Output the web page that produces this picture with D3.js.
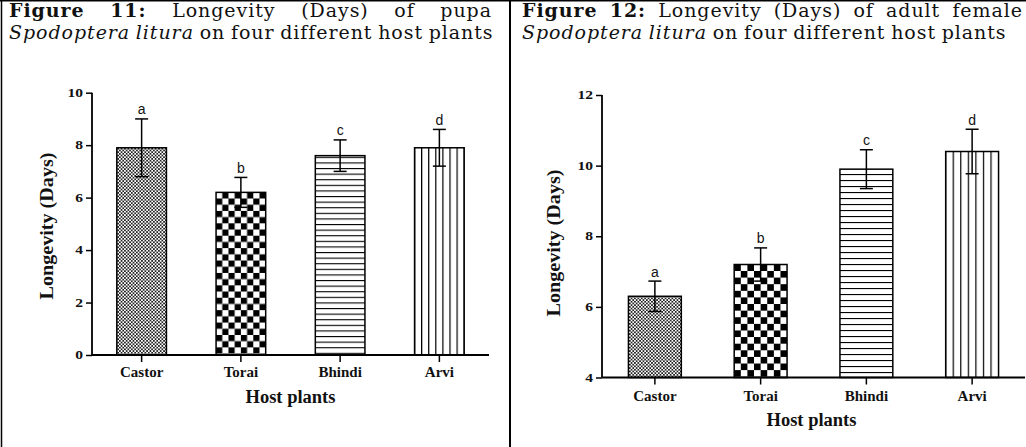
<!DOCTYPE html>
<html><head><meta charset="utf-8">
<script src="https://cdn.jsdelivr.net/npm/d3@7/dist/d3.min.js"></script>
<style>
html,body{margin:0;padding:0;background:#fff;}
svg{display:block;}
</style></head>
<body>
<svg id="fig" width="1026" height="447"></svg>
<script>
// ---------- data ----------
const categories = ["Castor", "Torai", "Bhindi", "Arvi"];
const pupaMeans = [7.9, 6.2, 7.6, 7.9];
const pupaErrors = [1.1, 0.57, 0.6, 0.7];
const pupaLetters = ["a", "b", "c", "d"];
const pupaTicks = [0, 2, 4, 6, 8, 10];

const femaleMeans = [6.3, 7.2, 9.9, 10.4];
const femaleErrors = [0.43, 0.47, 0.55, 0.63];
const femaleLetters = ["a", "b", "c", "d"];
const femaleTicks = [4, 6, 8, 10, 12];

const xTitle = "Host plants";
const yTitle = "Longevity (Days)";

const title11 = [
  [{t: "Figure", b: 1}, {t: "11:", b: 1}, {t: "Longevity"}, {t: "(Days)"}, {t: "of"}, {t: "pupa"}],
  [{t: "Spodoptera", i: 1}, {t: "litura", i: 1}, {t: "on"}, {t: "four"}, {t: "different"}, {t: "host"}, {t: "plants"}]
];
const title12 = [
  [{t: "Figure", b: 1}, {t: "12:", b: 1}, {t: "Longevity"}, {t: "(Days)"}, {t: "of"}, {t: "adult"}, {t: "female"}],
  [{t: "Spodoptera", i: 1}, {t: "litura", i: 1}, {t: "on"}, {t: "four"}, {t: "different"}, {t: "host"}, {t: "plants"}]
];

const svg = d3.select("#fig");
svg.append("rect").attr("width", 1026).attr("height", 447).attr("fill", "#fff");

// ---------- borders ----------
svg.append("line").attr("x1", 0).attr("x2", 1026).attr("y1", 0.75).attr("y2", 0.75).attr("stroke", "#000").attr("stroke-width", 1.5);
svg.append("line").attr("x1", 1.5).attr("x2", 1.5).attr("y1", 0).attr("y2", 447).attr("stroke", "#000").attr("stroke-width", 1.5);
svg.append("line").attr("x1", 510).attr("x2", 510).attr("y1", 0).attr("y2", 447).attr("stroke", "#000").attr("stroke-width", 2);

// ---------- titles ----------
const titleFont = "'DejaVu Serif', serif";
const titleSize = 19;
function measure(words, size, ls) {
  const g = svg.append("g");
  const ws = words.map(w => g.append("text").attr("font-family", titleFont).attr("font-size", size)
      .attr("letter-spacing", ls)
      .attr("font-weight", w.b ? "bold" : "normal").attr("font-style", w.i ? "italic" : "normal")
      .text(w.t).node().getComputedTextLength());
  g.remove();
  return ws;
}
// letter spacing so that the unjustified second line spans ~484px
const ws0 = measure(title11[1], titleSize, 0);
const nChars = d3.sum(title11[1], w => w.t.length);
const wordGap = titleSize * 0.3;
const titleLS = Math.max(0, (484 - d3.sum(ws0) - wordGap * (ws0.length - 1)) / nChars);

function drawTitle(lines, x0, x1, baselines) {
  lines.forEach((words, li) => {
    const ws = measure(words, titleSize, titleLS);
    const gap = li === 0 ? (x1 - x0 - d3.sum(ws)) / (words.length - 1) : wordGap;
    let x = x0;
    words.forEach((w, k) => {
      svg.append("text").attr("x", x).attr("y", baselines[li])
        .attr("font-family", titleFont).attr("font-size", titleSize).attr("letter-spacing", titleLS)
        .attr("font-weight", w.b ? "bold" : "normal").attr("font-style", w.i ? "italic" : "normal")
        .attr("fill", "#111").text(w.t);
      x += ws[k] + gap;
    });
  });
}
drawTitle(title11, 9, 492, [17, 38.5]);
drawTitle(title12, 522, 1023, [17, 38.5]);

// ---------- charts ----------
const defs = svg.append("defs");
const serif = "'Liberation Serif', 'Times New Roman', serif";

function makePatterns(id, xScale) {
  const bw = xScale.bandwidth();
  // Castor: fine checker
  const f = 3.4;
  const p0 = defs.append("pattern").attr("id", id + "p0").attr("patternUnits", "userSpaceOnUse")
    .attr("width", f).attr("height", f);
  p0.append("rect").attr("width", f).attr("height", f).attr("fill", "#fff");
  p0.append("rect").attr("width", f / 2).attr("height", f / 2).attr("fill", "#222");
  p0.append("rect").attr("x", f / 2).attr("y", f / 2).attr("width", f / 2).attr("height", f / 2).attr("fill", "#222");
  // Torai: coarse checker
  const c = bw / 8;
  const p1 = defs.append("pattern").attr("id", id + "p1").attr("patternUnits", "userSpaceOnUse")
    .attr("x", xScale(categories[1])).attr("width", 2 * c).attr("height", 2 * c);
  p1.append("rect").attr("width", 2 * c).attr("height", 2 * c).attr("fill", "#fff");
  p1.append("rect").attr("width", c).attr("height", c).attr("fill", "#000");
  p1.append("rect").attr("x", c).attr("y", c).attr("width", c).attr("height", c).attr("fill", "#000");
  // Bhindi: horizontal lines
  const h = id === "L" ? 5.6 : 6;
  const p2 = defs.append("pattern").attr("id", id + "p2").attr("patternUnits", "userSpaceOnUse")
    .attr("width", 10).attr("height", h);
  p2.append("rect").attr("width", 10).attr("height", h).attr("fill", "#fff");
  p2.append("rect").attr("y", 0).attr("width", 10).attr("height", 1.1).attr("fill", "#000");
  // Arvi: vertical lines
  const v = bw / 7;
  const p3 = defs.append("pattern").attr("id", id + "p3").attr("patternUnits", "userSpaceOnUse")
    .attr("x", xScale(categories[3]) - 0.6).attr("width", v).attr("height", 10);
  p3.append("rect").attr("width", v).attr("height", 10).attr("fill", "#fff");
  p3.append("rect").attr("x", 0).attr("width", 1.2).attr("height", 10).attr("fill", "#000");
}

function drawChart(cfg) {
  const x = d3.scaleBand().domain(categories).range(cfg.xRange).paddingInner(0.5).paddingOuter(0.25);
  const y = d3.scaleLinear().domain(cfg.yDomain).range(cfg.yRange);
  makePatterns(cfg.id, x);
  const g = svg.append("g");

  // bars
  g.selectAll(".bar").data(categories).enter().append("rect")
    .attr("x", d => x(d)).attr("width", x.bandwidth())
    .attr("y", (d, i) => y(cfg.means[i]))
    .attr("height", (d, i) => y(cfg.yDomain[0]) - y(cfg.means[i]))
    .attr("fill", (d, i) => `url(#${cfg.id}p${i})`)
    .attr("stroke", "#000").attr("stroke-width", 1.5);

  // error bars
  const capW = 13;
  categories.forEach((d, i) => {
    const cx = x(d) + x.bandwidth() / 2;
    const hi = y(cfg.means[i] + cfg.errors[i]);
    const lo = y(cfg.means[i] - cfg.errors[i]);
    g.append("line").attr("x1", cx).attr("x2", cx).attr("y1", hi).attr("y2", lo).attr("stroke", "#000").attr("stroke-width", 1.5);
    [hi, lo].forEach(yy => g.append("line").attr("x1", cx - capW / 2).attr("x2", cx + capW / 2)
      .attr("y1", yy).attr("y2", yy).attr("stroke", "#000").attr("stroke-width", 1.5));
    g.append("text").attr("x", cx).attr("y", hi - 4.5).attr("text-anchor", "middle")
      .attr("font-family", "'Liberation Sans', Arial, sans-serif").attr("font-size", 14)
      .attr("fill", "#111").text(cfg.letters[i]);
  });

  // y axis
  const ya = g.append("g").attr("transform", `translate(${cfg.xRange[0]},0)`)
    .call(d3.axisLeft(y).tickValues(cfg.ticks).tickSize(6).tickPadding(3).tickFormat(d3.format("d")));
  ya.select(".domain").attr("stroke-width", 1.8).attr("d", `M-0,${cfg.yRange[0]}V${cfg.yRange[1]}`);
  ya.selectAll(".tick line").attr("stroke-width", 1.5);
  ya.selectAll(".tick text").attr("font-family", serif)
    .attr("font-weight", "bold").attr("font-size", 11.5).attr("fill", "#111")
    .style("transform-box", "fill-box").style("transform-origin", "right center").style("transform", "scaleX(1.35)");

  // x axis
  const xa = g.append("g").attr("transform", `translate(0,${cfg.yRange[0]})`)
    .call(d3.axisBottom(x).tickSize(7).tickPadding(cfg.xPad));
  xa.select(".domain").attr("stroke-width", 1.8).attr("d", `M${cfg.xRange[0]},0H${cfg.xRange[1]}`);
  xa.selectAll(".tick line").attr("stroke-width", 1.5);
  xa.selectAll(".tick text").attr("font-family", serif)
    .attr("font-weight", "bold").attr("font-size", 15).attr("fill", "#111");

  // axis titles
  g.append("text").attr("x", (cfg.xRange[0] + cfg.xRange[1]) / 2 + cfg.xTitleDx).attr("y", cfg.xTitleY)
    .attr("text-anchor", "middle").attr("font-family", serif)
    .attr("font-weight", "bold").attr("font-size", 18.5).attr("fill", "#111").text(xTitle);
  g.append("text").attr("transform", `translate(${cfg.yTitleX},${cfg.yTitleY}) rotate(-90)`)
    .attr("text-anchor", "middle").attr("font-family", serif)
    .attr("font-weight", "bold").attr("font-size", 18)
    .attr("textLength", 147).attr("lengthAdjust", "spacingAndGlyphs")
    .attr("fill", "#111").text(yTitle);
}

drawChart({id: "L", xRange: [92, 489], yDomain: [0, 10], yRange: [355, 92.7],
  means: pupaMeans, errors: pupaErrors, letters: pupaLetters, ticks: pupaTicks,
  xPad: 4, xTitleY: 402.5, xTitleDx: 0, yTitleX: 53, yTitleY: 226});
drawChart({id: "R", xRange: [602, 1025], yDomain: [4, 12], yRange: [377.5, 95],
  means: femaleMeans, errors: femaleErrors, letters: femaleLetters, ticks: femaleTicks,
  xPad: 5.5, xTitleY: 425.5, xTitleDx: -2, yTitleX: 560, yTitleY: 243});
</script>
</body></html>
